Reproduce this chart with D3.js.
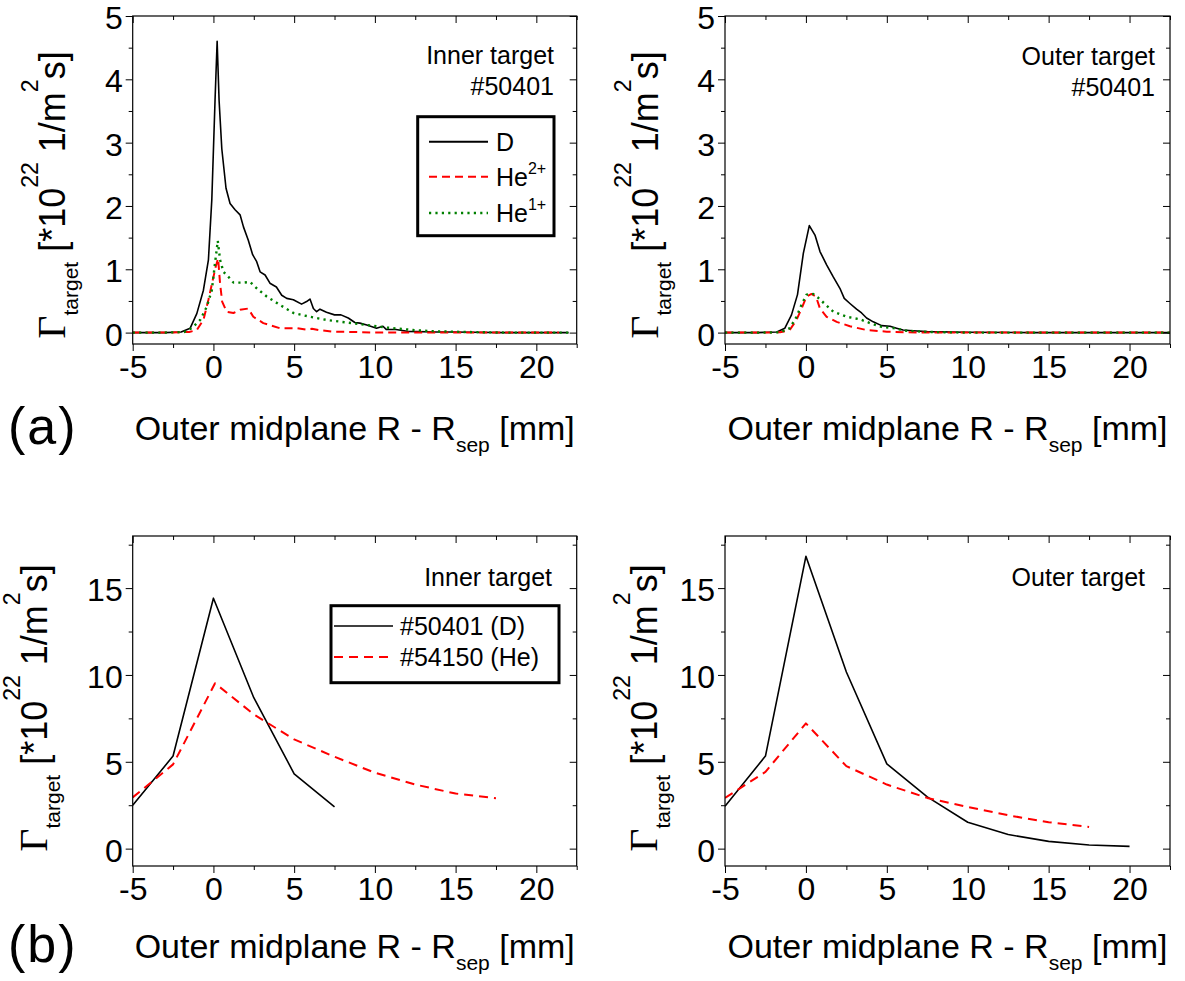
<!DOCTYPE html>
<html><head><meta charset="utf-8">
<script src="https://cdn.jsdelivr.net/npm/d3@7"></script>
<style>
body{margin:0;background:#fff;}
text{font-family:"Liberation Sans",Arial,sans-serif;fill:#000;}
</style>
</head><body>
<svg id="c" width="1185" height="981"></svg>
<script>
// ---------------- DATA ----------------
const xTicks = [-5, 0, 5, 10, 15, 20];
const xMinor = [-2.5, 2.5, 7.5, 12.5, 17.5, 22.5];
const yTicksA = [0, 1, 2, 3, 4, 5];
const yMinorA = [0.5, 1.5, 2.5, 3.5, 4.5];
const yTicksB = [0, 5, 10, 15];
const yMinorB = [2.5, 7.5, 12.5, 17.5];

// (a) inner target, #50401
const aInX_D = [-5,-4,-3,-2,-1.44,-1.03,-0.62,-0.31,-0.1,0.1,0.23,0.35,0.52,0.78,1.03,1.34,1.65,1.86,2.16,2.43,2.68,2.89,3.2,3.5,3.9,4.23,4.54,4.95,5.46,5.77,5.98,6.19,6.39,6.6,7.0,7.5,7.9,8.35,8.76,9.07,9.5,10.1,10.5,10.7,11.3,12,13.8,14.8,16,18,20,22];
const aInY_D = [0,0,0,0.01,0.07,0.3,0.67,1.15,2.1,3.67,4.6,3.67,2.9,2.28,2.04,1.94,1.86,1.67,1.46,1.23,1.12,0.96,0.91,0.78,0.72,0.59,0.54,0.52,0.45,0.49,0.53,0.38,0.33,0.37,0.32,0.28,0.28,0.23,0.16,0.15,0.12,0.07,0.1,0.05,0.05,0.02,0.01,0.01,0.005,0,0,0];
const aInX_He2 = [-5,-3,-1.5,-1.03,-0.62,-0.31,-0.04,0.14,0.29,0.41,0.54,0.82,1.24,1.65,2.16,2.47,3.09,4.1,5.15,5.7,6.1,6.5,7.4,8.7,10,14,18,21.4];
const aInY_He2 = [0,0,0.01,0.04,0.2,0.52,0.83,1.04,1.17,0.78,0.49,0.33,0.31,0.36,0.38,0.25,0.15,0.07,0.07,0.05,0.06,0.04,0.015,0.01,0,0,0,0];
const aInX_He1 = [-5,-3,-1.8,-1.34,-0.82,-0.41,-0.1,0.1,0.27,0.41,0.62,0.93,1.24,1.86,2.27,2.68,3.3,4.1,4.95,5.98,7.0,8.25,9.5,10.7,12.4,13.8,15.5,18,22];
const aInY_He1 = [0,0,0.01,0.07,0.2,0.41,0.67,1.1,1.45,1.15,0.96,0.88,0.79,0.79,0.8,0.7,0.57,0.44,0.31,0.25,0.2,0.16,0.12,0.08,0.04,0.02,0.01,0,0];

// (a) outer target, #50401
const aOutX_D = [-5,-3,-1.8,-1.3,-0.89,-0.52,-0.16,0.21,0.56,0.87,1.28,1.69,2.1,2.37,2.72,3.13,3.44,3.75,4.16,4.68,5.2,5.6,6.0,6.6,7.5,9.9,14,18,22.5];
const aOutY_D = [0,0,0.01,0.07,0.28,0.6,1.25,1.69,1.54,1.28,1.07,0.88,0.7,0.54,0.46,0.37,0.31,0.23,0.17,0.11,0.1,0.07,0.04,0.03,0.015,0.005,0,0,0];
const aOutX_He2 = [-5,-3,-1.6,-1.0,-0.58,-0.27,0.04,0.35,0.62,0.87,1.28,1.9,2.72,3.75,5.0,6.2,8,12,16,20,22.5];
const aOutY_He2 = [0,0,0.005,0.04,0.2,0.38,0.57,0.61,0.57,0.38,0.25,0.17,0.1,0.04,0.015,0.005,0,0,0,0,0];
const aOutX_He1 = [-5,-3,-1.6,-1.0,-0.58,-0.27,0.04,0.45,0.76,1.18,1.69,2.52,3.34,3.96,4.68,5.4,6.2,7.5,10,14,18,22.5];
const aOutY_He1 = [0,0,0.005,0.07,0.25,0.44,0.6,0.61,0.55,0.45,0.33,0.25,0.21,0.15,0.09,0.07,0.03,0.01,0,0,0,0];

// (b) inner target
const bInX_D = [-5,-2.5,0,2.5,5,7.5];
const bInY_D = [2.5,5.33,14.42,8.69,4.31,2.4];
const bInX_He = [-5,-2.5,0.1,2.5,5,7.5,10,12.5,15,17.5];
const bInY_He = [2.95,4.85,9.52,7.73,6.29,5.29,4.37,3.69,3.17,2.9];

// (b) outer target
const bOutX_D = [-5,-2.5,0,2.5,5,7.5,10,12.5,15,17.5,20];
const bOutY_D = [2.44,5.33,16.83,10.17,4.88,2.98,1.52,0.81,0.42,0.21,0.13];
const bOutX_He = [-5,-2.5,0,2.5,5,7.5,10,12.5,15,17.5];
const bOutY_He = [2.92,4.42,7.21,4.75,3.69,2.92,2.4,1.92,1.52,1.25];

const legendA = ["D", "He", "He"];
const legendASup = ["", "2+", "1+"];
const legendB = ["#50401 (D)", "#54150 (He)"];

// ---------------- STYLES ----------------
const S = {
  D:   {stroke:"#000", width:1.6, dash:null},
  He2: {stroke:"#ff0000", width:2, dash:"8,5"},
  He1: {stroke:"#008000", width:2.4, dash:"2.2,4.2"},
  He:  {stroke:"#ff0000", width:2, dash:"9,6"}
};

const svg = d3.select("#c");

const panels = [
  {box:[132.7,576.7,16,344], yd:[-0.18,5], yt:yTicksA, ym:yMinorA,
   series:[[aInX_D,aInY_D,S.D],[aInX_He2,aInY_He2,S.He2],[aInX_He1,aInY_He1,S.He1]],
   titleX:65, titleY:195, note:["Inner target","#50401"], noteX:554, noteY:[64,95], xTitleY:440},
  {box:[725,1170,16,344], yd:[-0.18,5], yt:yTicksA, ym:yMinorA,
   series:[[aOutX_D,aOutY_D,S.D],[aOutX_He2,aOutY_He2,S.He2],[aOutX_He1,aOutY_He1,S.He1]],
   titleX:658, titleY:195, note:["Outer target","#50401"], noteX:1155, noteY:[65,96], xTitleY:440},
  {box:[132.7,576.7,536,866], yd:[-1,18], yt:yTicksB, ym:yMinorB,
   series:[[bInX_D,bInY_D,S.D],[bInX_He,bInY_He,S.He]],
   titleX:47, titleY:708, note:["Inner target"], noteX:552, noteY:[586], xTitleY:958},
  {box:[725,1170,536,866], yd:[-1,18], yt:yTicksB, ym:yMinorB,
   series:[[bOutX_D,bOutY_D,S.D],[bOutX_He,bOutY_He,S.He]],
   titleX:657, titleY:708, note:["Outer target"], noteX:1145, noteY:[586], xTitleY:958}
];

const TICKF = 32;

panels.forEach(p => {
  const [L,R,T,B] = p.box;
  const x = d3.scaleLinear().domain([-5,22.5]).range([L,R]);
  const y = d3.scaleLinear().domain(p.yd).range([B,T]);
  const g = svg.append("g");

  const cid = "clip" + Math.round(L) + "_" + Math.round(T);
  svg.append("clipPath").attr("id",cid).append("rect")
    .attr("x",L).attr("y",T).attr("width",R-L).attr("height",B-T);

  const line = d3.line().x(d=>x(d[0])).y(d=>y(d[1]));
  p.series.forEach(([xs,ys,st]) => {
    g.append("path").datum(xs.map((v,i)=>[v,ys[i]]))
      .attr("clip-path","url(#"+cid+")")
      .attr("d",line).attr("fill","none")
      .attr("stroke",st.stroke).attr("stroke-width",st.width)
      .attr("stroke-dasharray",st.dash).attr("stroke-linejoin","round");
  });

  const styleAxis = (sel, labels) => {
    sel.select(".domain").remove();
    sel.selectAll("line").attr("stroke","#000").attr("stroke-width",1);
    sel.selectAll("text").style("font-size",TICKF+"px").style("font-family","'Liberation Sans',Arial,sans-serif").attr("fill","#000");
    if(!labels) sel.selectAll("text").remove();
  };
  const fmt = d => (d<0 ? "-" + Math.abs(d) : String(d));
  g.append("g").attr("transform",`translate(0,${B})`)
    .call(d3.axisBottom(x).tickValues(xTicks).tickSize(7).tickPadding(4).tickFormat(fmt))
    .call(s=>styleAxis(s,true));
  g.append("g").attr("transform",`translate(0,${B})`)
    .call(d3.axisBottom(x).tickValues(xMinor).tickSize(4)).call(s=>styleAxis(s,false));
  g.append("g").attr("transform",`translate(0,${T})`)
    .call(d3.axisTop(x).tickValues(xTicks).tickSize(-7)).call(s=>styleAxis(s,false));
  g.append("g").attr("transform",`translate(0,${T})`)
    .call(d3.axisTop(x).tickValues(xMinor).tickSize(-4)).call(s=>styleAxis(s,false));
  g.append("g").attr("transform",`translate(${L},0)`)
    .call(d3.axisLeft(y).tickValues(p.yt).tickSize(7).tickPadding(3).tickFormat(d3.format("d")))
    .call(s=>{ styleAxis(s,true); s.selectAll("text").attr("dy","0.39em"); });
  g.append("g").attr("transform",`translate(${L},0)`)
    .call(d3.axisLeft(y).tickValues(p.ym).tickSize(4)).call(s=>styleAxis(s,false));
  g.append("g").attr("transform",`translate(${R},0)`)
    .call(d3.axisRight(y).tickValues(p.yt).tickSize(-7)).call(s=>styleAxis(s,false));
  g.append("g").attr("transform",`translate(${R},0)`)
    .call(d3.axisRight(y).tickValues(p.ym).tickSize(-4)).call(s=>styleAxis(s,false));

  g.append("rect").attr("x",L).attr("y",T).attr("width",R-L).attr("height",B-T)
    .attr("fill","none").attr("stroke","#000").attr("stroke-width",1.2);

  const yt = g.append("text").attr("transform",`translate(${p.titleX},${p.titleY}) rotate(-90)`)
    .attr("text-anchor","middle").style("font-size","36px");
  yt.append("tspan").style("font-family","'Liberation Serif','Times New Roman',serif").style("font-size","40px").text("Γ");
  yt.append("tspan").style("font-size","21px").attr("dy",13).text("target");
  yt.append("tspan").attr("dy",-13).text(" [*10");
  yt.append("tspan").style("font-size","23px").attr("dy",-27).text("22");
  yt.append("tspan").attr("dy",27).text(" 1/m");
  yt.append("tspan").style("font-size","23px").attr("dy",-27).text("2");
  yt.append("tspan").attr("dy",27).text("s]");

  const xt = g.append("text").attr("x",(L+R)/2).attr("y",p.xTitleY)
    .attr("text-anchor","middle").style("font-size","34px");
  xt.append("tspan").text("Outer midplane R - R");
  xt.append("tspan").style("font-size","21px").attr("dy",12).text("sep");
  xt.append("tspan").attr("dy",-12).text(" [mm]");

  p.note.forEach((t,i) => {
    g.append("text").attr("x",p.noteX).attr("y",p.noteY[i]).attr("text-anchor","end")
      .style("font-size","25px").text(t);
  });
});

// panel letters
svg.append("text").attr("x",8).attr("y",444).style("font-size","52px").style("letter-spacing","2px").text("(a)");
svg.append("text").attr("x",8).attr("y",962).style("font-size","52px").style("letter-spacing","2px").text("(b)");

// legend (a)
{
  const lg = svg.append("g");
  lg.append("rect").attr("x",417.7).attr("y",116.7).attr("width",136.3).attr("height",119)
    .attr("fill","#fff").attr("stroke","#000").attr("stroke-width",3);
  const st = [S.D, S.He2, S.He1];
  const ly = [141.7, 176.7, 213];
  legendA.forEach((name,i) => {
    lg.append("line").attr("x1",429).attr("x2",488).attr("y1",ly[i]).attr("y2",ly[i])
      .attr("stroke",st[i].stroke).attr("stroke-width",i===0?2:st[i].width).attr("stroke-dasharray",st[i].dash);
    const t = lg.append("text").attr("x",496).attr("y",ly[i]+9).style("font-size","25px");
    t.append("tspan").text(name);
    if (legendASup[i]) t.append("tspan").style("font-size","16px").attr("dy",-12).text(legendASup[i]);
  });
}
// legend (b)
{
  const lg = svg.append("g");
  lg.append("rect").attr("x",331).attr("y",605.7).attr("width",228).attr("height",77)
    .attr("fill","#fff").attr("stroke","#000").attr("stroke-width",3);
  const st = [S.D, S.He];
  const ly = [626, 657];
  legendB.forEach((name,i) => {
    lg.append("line").attr("x1",334).attr("x2",393).attr("y1",ly[i]).attr("y2",ly[i])
      .attr("stroke",st[i].stroke).attr("stroke-width",st[i].width).attr("stroke-dasharray",st[i].dash);
    lg.append("text").attr("x",400).attr("y",ly[i]+9).style("font-size","25px").text(name);
  });
}
</script>
</body></html>
